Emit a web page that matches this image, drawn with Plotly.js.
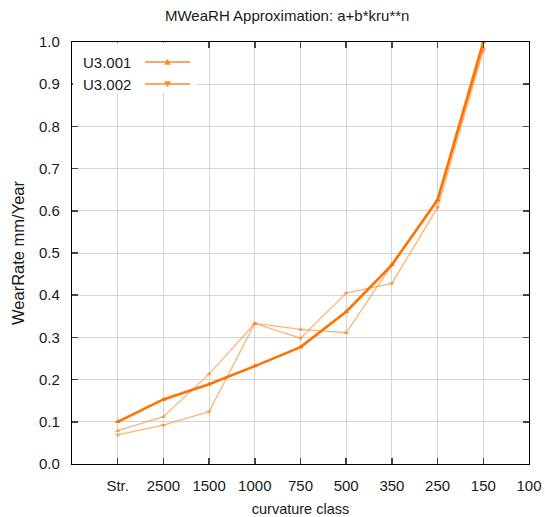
<!DOCTYPE html>
<html>
<head>
<meta charset="utf-8">
<script src="https://cdn.plot.ly/plotly-3.0.1.min.js"></script>
<style>
  html, body { margin: 0; padding: 0; background: #fff; }
  #chart { width: 545px; height: 517px; }
</style>
</head>
<body>
<div id="chart"></div>
<script>
// Curvature classes (the leftmost slot stays empty, "100" has no data)
const categories = ["Str.", "2500", "1500", "1000", "750", "500", "350", "250", "150", "100"];
const classes = categories.slice(0, 9);

// Wear rates in mm/year
const approx = [0.100, 0.153, 0.189, 0.232, 0.277, 0.361, 0.472, 0.626, 1.000];
const u3001  = [0.079, 0.112, 0.213, 0.333, 0.319, 0.311, 0.472, 0.625, 0.985];
const u3002  = [0.069, 0.092, 0.124, 0.333, 0.298, 0.405, 0.428, 0.608, 0.980];

const legendNames = ["U3.001", "U3.002"];

const textColor = "#1a1a1a";
const gridColor = "#d4d4d4";
const thickColor = "#ff7200";
const thinColor = "rgba(255,130,35,0.62)";
const fontFamily = "Liberation Sans, Arial, sans-serif";

const traces = [
  {
    x: classes, y: u3001, type: "scatter", mode: "lines+markers", name: legendNames[0],
    line: { color: thinColor, width: 1.3 },
    marker: { symbol: "triangle-up", size: 5, color: thinColor }
  },
  {
    x: classes, y: u3002, type: "scatter", mode: "lines+markers", name: legendNames[1],
    line: { color: thinColor, width: 1.3 },
    marker: { symbol: "triangle-down", size: 5, color: thinColor }
  },
  {
    x: classes, y: approx, type: "scatter", mode: "lines+markers", name: "a+b*kru**n",
    line: { color: thickColor, width: 2.6 },
    marker: { symbol: "triangle-up", size: 5, color: thickColor }
  }
];

// Hand-drawn key in the top-left corner: label first, then line sample
const L = 72, R = 529, T = 42, B = 464;
const px = v => (v - L) / (R - L);
const py = v => (B - v) / (B - T);
const shapes = [
  { type: "rect", xref: "paper", yref: "paper", layer: "above",
    x0: 0.002, x1: px(197), y0: py(93), y1: 0.998,
    fillcolor: "#ffffff", line: { width: 0 } }
];
const annotations = [];
const keyRows = [62, 84];
legendNames.forEach((name, i) => {
  const yy = py(keyRows[i]);
  annotations.push({
    xref: "paper", yref: "paper", x: px(81), y: yy, xanchor: "left", yanchor: "middle",
    text: name, showarrow: false, font: { family: fontFamily, size: 15, color: textColor }
  });
  shapes.push({ type: "line", xref: "paper", yref: "paper", layer: "above",
    x0: px(145), x1: px(190), y0: yy, y1: yy, line: { color: "#ff8a2a", width: 1.4 } });
  const cx = px(167.5), dx = 3 / (R - L), dy = 3 / (B - T);
  const path = i === 0
    ? `M ${cx - dx} ${yy - dy * 0.8} L ${cx + dx} ${yy - dy * 0.8} L ${cx} ${yy + dy} Z`
    : `M ${cx - dx} ${yy + dy * 0.8} L ${cx + dx} ${yy + dy * 0.8} L ${cx} ${yy - dy} Z`;
  shapes.push({ type: "path", xref: "paper", yref: "paper", layer: "above", path: path,
    fillcolor: "#ff8a2a", line: { color: "#ff8a2a", width: 0.5 } });
});

const layout = {
  width: 545, height: 517,
  margin: { l: 72, r: 16, t: 42, b: 53 },
  paper_bgcolor: "#ffffff", plot_bgcolor: "#ffffff",
  font: { family: fontFamily, size: 15, color: textColor },
  showlegend: false,
  title: {
    text: "MWeaRH Approximation: a+b*kru**n",
    font: { size: 15, color: textColor },
    x: 0.527, xref: "container", xanchor: "center",
    y: 0.969, yref: "container", yanchor: "middle"
  },
  xaxis: {
    type: "category",
    categoryorder: "array", categoryarray: categories,
    range: [-1, 9],
    showgrid: true, gridcolor: gridColor, gridwidth: 1,
    showline: true, linecolor: "#000", linewidth: 1.2, mirror: "ticks",
    ticks: "inside", ticklen: 6, tickcolor: "#444", tickwidth: 1.5,
    tickfont: { size: 15, color: textColor },
    ticklabelstandoff: 8,
    zeroline: false,
    title: { text: "curvature class", font: { size: 14.5, color: textColor }, standoff: 10 }
  },
  yaxis: {
    range: [0, 1], dtick: 0.1, tickformat: ".1f",
    showgrid: true, gridcolor: gridColor, gridwidth: 1,
    showline: true, linecolor: "#000", linewidth: 1.2, mirror: "ticks",
    ticks: "inside", ticklen: 6, tickcolor: "#444", tickwidth: 1.5,
    tickfont: { size: 15, color: textColor },
    ticklabelstandoff: 8,
    zeroline: false,
    title: { text: "WearRate mm/Year", font: { size: 16.5, color: textColor }, standoff: 10 }
  },
  shapes: shapes,
  annotations: annotations
};

Plotly.newPlot("chart", traces, layout, { staticPlot: true, displayModeBar: false });
</script>
</body>
</html>
